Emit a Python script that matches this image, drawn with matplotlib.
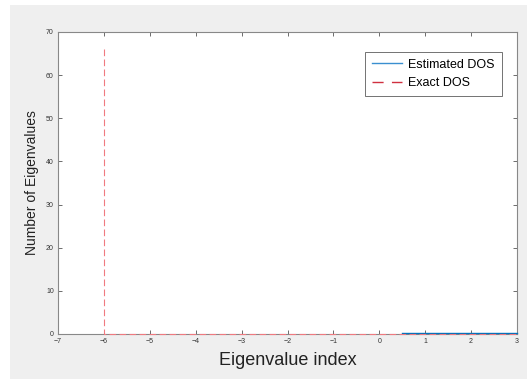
import numpy as np
from matplotlib import pyplot as plt
from matplotlib.patches import Rectangle

# Data
exact_x = [-6.0, -6.0, -5.0, -4.0, -3.0, -2.0, -1.0, 0.0, 1.0, 2.0, 3.0]
exact_y = [66.0, 0.0, 0.0, 0.0, 0.0, 0.0, 0.0, 0.0, 0.0, 0.0, 0.0]
est_x = [0.5, 1.0, 1.5, 2.0, 2.5, 3.0]
est_y = [0.15, 0.15, 0.15, 0.15, 0.15, 0.15]
xticks = [-7, -6, -5, -4, -3, -2, -1, 0, 1, 2, 3]
yticks = [0, 10, 20, 30, 40, 50, 60, 70]

plt.rcParams['font.family'] = ['Liberation Sans', 'DejaVu Sans']

fig = plt.figure(figsize=(5.27, 3.79), dpi=100)
fig.patch.set_facecolor('white')
# grey MATLAB-like figure background, offset a little from the top left
fig.patches.append(Rectangle((10/527, 0), 1, 1 - 5/379, transform=fig.transFigure,
                             facecolor='#efefef', edgecolor='none', zorder=-1))

ax = fig.add_axes([58/527, 45/379, 459/527, 302/379])
ax.set_facecolor('white')

ax.plot(est_x, est_y, color='#0072BD', lw=1.0, label='Estimated DOS',
        clip_on=False, zorder=3)
ax.plot(exact_x, exact_y, color='#f07a80', lw=0.8, ls=(0, (6, 3)),
        label='Exact DOS', clip_on=False, zorder=4)

ax.set_xlim(-7, 3)
ax.set_ylim(0, 70)
ax.set_xticks(xticks)
ax.set_yticks(yticks)
ax.tick_params(direction='in', top=True, right=True, length=3, width=0.6,
               labelsize=5, colors='#555555', labelcolor='#333333', pad=3)
for s in ax.spines.values():
    s.set_color('#888888')
    s.set_linewidth(0.8)
    s.set_zorder(2)

ax.set_xlabel('Eigenvalue index', fontsize=13, color='#222222', labelpad=5)
ax.set_ylabel('Number of Eigenvalues', fontsize=10, color='#222222', labelpad=5)

leg = ax.legend(loc='upper right', bbox_to_anchor=(0.967, 0.934), fontsize=9,
                frameon=True, fancybox=False, handlelength=2.4,
                borderpad=0.55, labelspacing=0.5, handletextpad=0.5,
                borderaxespad=0)
leg.get_frame().set_edgecolor('#333333')
leg.get_frame().set_linewidth(0.6)
leg.get_lines()[0].set_linewidth(1.0)
leg.get_lines()[0].set_color('#3a8fd0')
leg.get_lines()[1].set_color('#d03040')
leg.get_lines()[1].set_linewidth(1.0)
leg.get_lines()[1].set_linestyle((0, (8, 6)))

fig.savefig('out.png', dpi=100)
